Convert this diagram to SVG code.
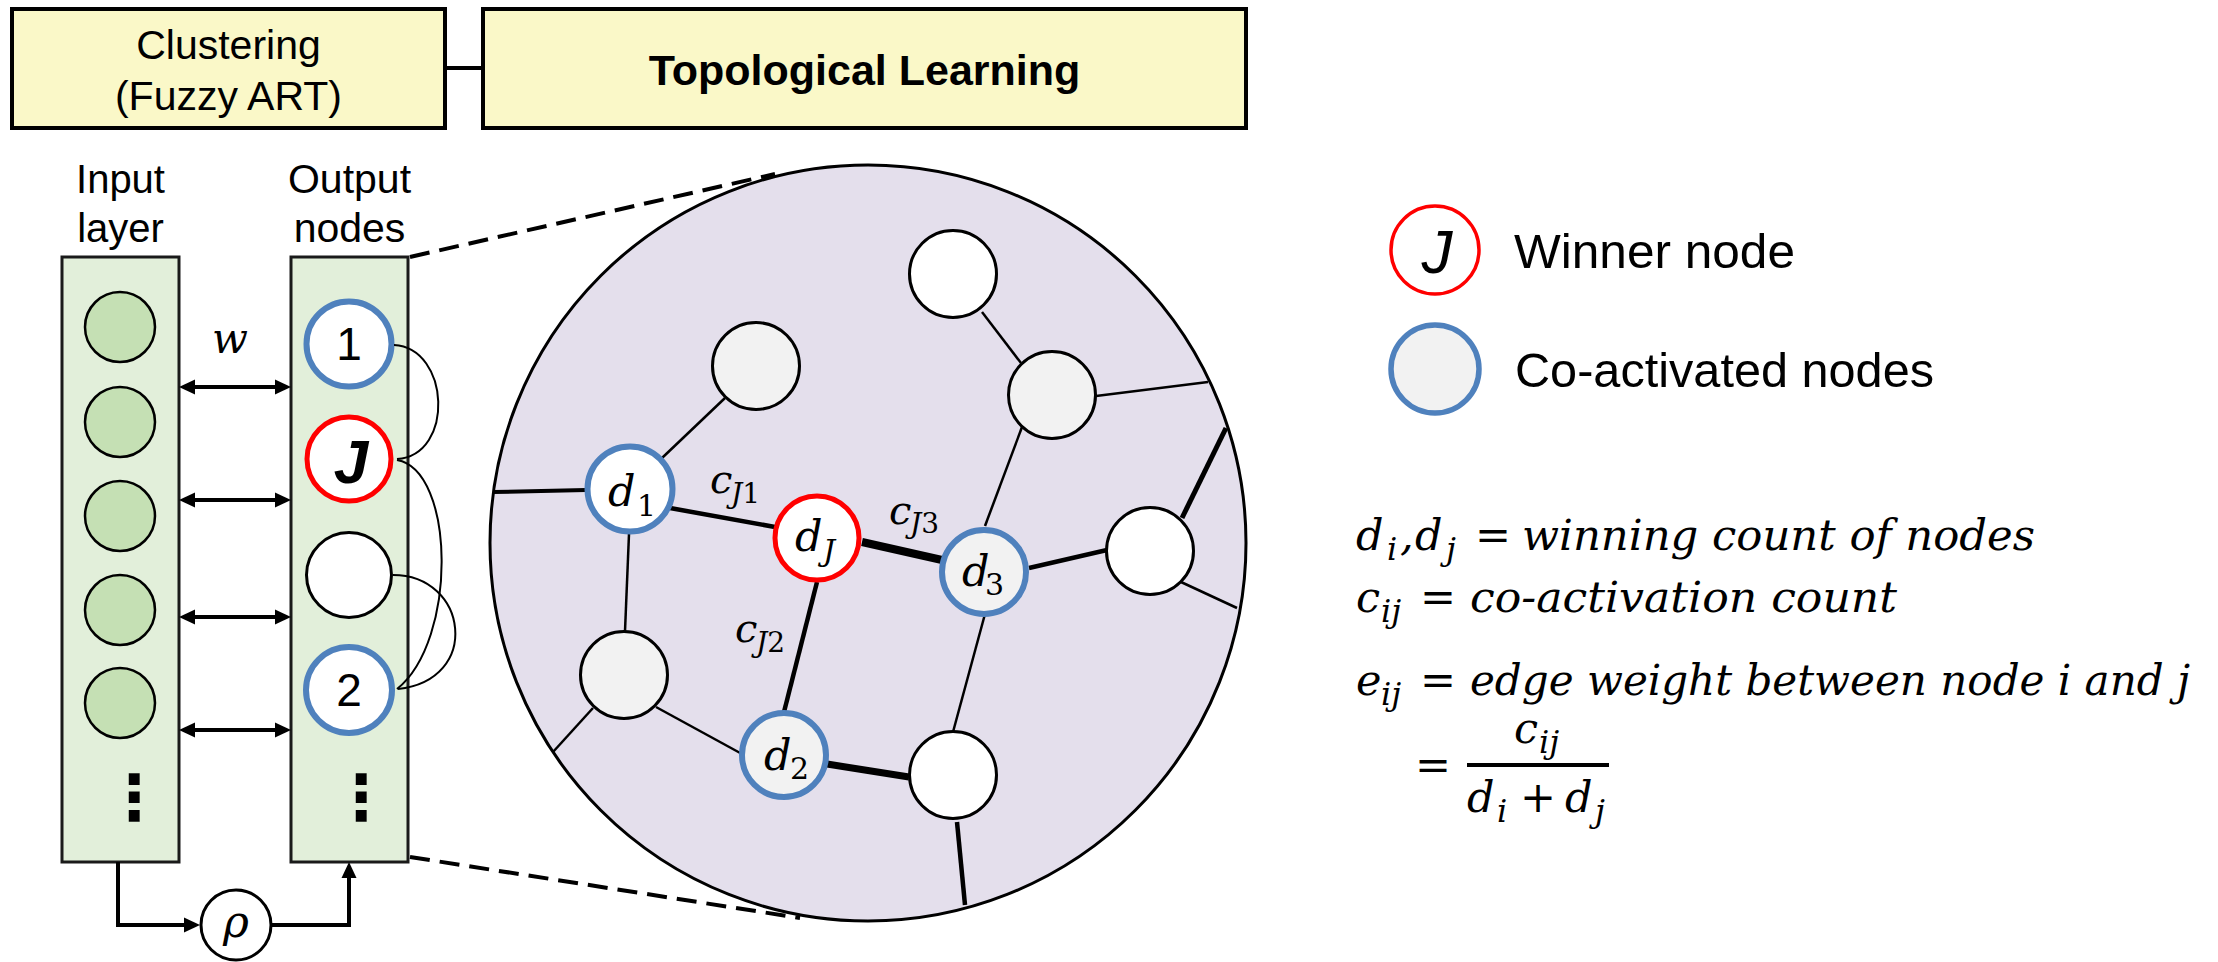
<svg xmlns="http://www.w3.org/2000/svg" width="2218" height="962" viewBox="0 0 2218 962">
<defs>
<marker id="ah" markerUnits="userSpaceOnUse" markerWidth="16" markerHeight="16" viewBox="0 0 16 16" refX="6" refY="8" orient="auto-start-reverse"><path d="M0,0.5 L16,8 L0,15.5 z" fill="#000"/></marker>
</defs>
<style>
.sans{font-family:"Liberation Sans",Arial,sans-serif;fill:#000}
.math{font-family:"DejaVu Serif",serif;font-style:italic;fill:#000}
.up{font-style:normal}
.box{fill:#FAF8C8;stroke:#000;stroke-width:4}
.col{fill:#E2EFDA;stroke:#1a1a1a;stroke-width:3}
.inp{fill:#C5E0B4;stroke:#000;stroke-width:2.5}
.gn{fill:#F2F2F2;stroke:#000;stroke-width:3}
.wn{fill:#FFFFFF;stroke:#000;stroke-width:3}
.bl{stroke:#4F81BD;stroke-width:6}
.rd{stroke:#FF0000;stroke-width:5}
.ln{stroke:#000;fill:none;stroke-linecap:butt}
.dash{stroke:#000;stroke-width:4;stroke-dasharray:20 10;fill:none}
</style>

<g id="clustering-box">
<rect class="box" x="12" y="9" width="433" height="119"/>
<text class="sans" x="228.5" y="59" font-size="41" text-anchor="middle">Clustering</text>
<text class="sans" x="228.5" y="110" font-size="41" text-anchor="middle">(Fuzzy ART)</text>
</g>
<g id="topological-box">
<rect class="box" x="483" y="9" width="763" height="119"/>
<text class="sans" x="864.5" y="85" font-size="43" font-weight="bold" text-anchor="middle">Topological Learning</text>
</g>

<g id="input-layer">
<text class="sans" x="120.5" y="193" font-size="40" text-anchor="middle">Input</text>
<text class="sans" x="120.5" y="242" font-size="40" text-anchor="middle">layer</text>
<rect class="col" x="62" y="257" width="117" height="605"/>
<circle class="inp" cx="120" cy="327" r="35"/>
<circle class="inp" cx="120" cy="422" r="35"/>
<circle class="inp" cx="120" cy="516" r="35"/>
<circle class="inp" cx="120" cy="610" r="35"/>
<circle class="inp" cx="120" cy="703" r="35"/>
<text font-family="DejaVu Sans, sans-serif" font-weight="bold" x="134" y="819" font-size="62" text-anchor="middle">⋮</text>
</g>

<g id="output-nodes">
<text class="sans" x="349.5" y="193" font-size="41" text-anchor="middle">Output</text>
<text class="sans" x="349.5" y="242" font-size="41" text-anchor="middle">nodes</text>
<rect class="col" x="291" y="257" width="117" height="605"/>
<circle class="bl" fill="#FFFFFF" cx="349" cy="344" r="42.5"/>
<text class="sans" x="349" y="360" font-size="46" text-anchor="middle">1</text>
<circle class="rd" fill="#FFFFFF" cx="349" cy="459" r="42" stroke-width="4.5"/>
<text class="sans" x="351" y="483" font-size="62" font-style="italic" font-weight="bold" text-anchor="middle">J</text>
<circle class="wn" cx="349" cy="575" r="42.5"/>
<circle class="bl" fill="#FFFFFF" cx="349" cy="690" r="43"/>
<text class="sans" x="349" y="706" font-size="46" text-anchor="middle">2</text>
<text font-family="DejaVu Sans, sans-serif" font-weight="bold" x="361" y="819" font-size="62" text-anchor="middle">⋮</text>
</g>

<g id="rho-node">
<circle class="wn" cx="236" cy="925" r="35" stroke-width="2.5"/>
<text class="math" x="236" y="937" font-size="44" text-anchor="middle">ρ</text>
</g>

<g id="topology-circle">
<circle cx="868" cy="543" r="378" fill="#E4DFEC" stroke="#000" stroke-width="3"/>
</g>

<g id="connectors">
<line class="ln" x1="445" y1="68" x2="483" y2="68" stroke-width="4"/>
<line class="ln" x1="189" y1="387" x2="281" y2="387" stroke-width="4" marker-start="url(#ah)" marker-end="url(#ah)"/>
<line class="ln" x1="189" y1="500" x2="281" y2="500" stroke-width="4" marker-start="url(#ah)" marker-end="url(#ah)"/>
<line class="ln" x1="189" y1="617" x2="281" y2="617" stroke-width="4" marker-start="url(#ah)" marker-end="url(#ah)"/>
<line class="ln" x1="189" y1="730" x2="281" y2="730" stroke-width="4" marker-start="url(#ah)" marker-end="url(#ah)"/>
<path class="ln" d="M118,862 V925 H190" stroke-width="4" marker-end="url(#ah)"/>
<path class="ln" d="M271,925 H349 V872" stroke-width="4" marker-end="url(#ah)"/>
<path class="ln" d="M394,345 C450,348 455,455 397,459" stroke-width="2"/>
<path class="ln" d="M397,460 C455,470 458,640 397,689" stroke-width="2"/>
<path class="ln" d="M393,575 C468,575 482,680 398,689" stroke-width="2"/>
<line class="dash" x1="410" y1="257" x2="775" y2="174"/>
<line class="dash" x1="410" y1="857" x2="800" y2="918"/>
<line class="ln" x1="493" y1="492" x2="586" y2="490" stroke-width="4"/>
<line class="ln" x1="662" y1="458" x2="725" y2="398" stroke-width="2.5"/>
<line class="ln" x1="670" y1="508" x2="775" y2="527" stroke-width="4.5"/>
<line class="ln" x1="629" y1="534" x2="625" y2="631" stroke-width="2.5"/>
<line class="ln" x1="593" y1="708" x2="553" y2="752" stroke-width="2.5"/>
<line class="ln" x1="656" y1="707" x2="742" y2="754" stroke-width="2.5"/>
<line class="ln" x1="817" y1="582" x2="784" y2="712" stroke-width="4.5"/>
<line class="ln" x1="862" y1="542" x2="942" y2="560" stroke-width="8"/>
<line class="ln" x1="827" y1="764" x2="909" y2="777" stroke-width="7"/>
<line class="ln" x1="957" y1="822" x2="965" y2="905" stroke-width="4.5"/>
<line class="ln" x1="985" y1="614" x2="953" y2="732" stroke-width="2.5"/>
<line class="ln" x1="1029" y1="568" x2="1107" y2="550" stroke-width="4.5"/>
<line class="ln" x1="1022" y1="427" x2="985" y2="526" stroke-width="2.5"/>
<line class="ln" x1="982" y1="312" x2="1021" y2="363" stroke-width="2.5"/>
<line class="ln" x1="1096" y1="396" x2="1208" y2="382" stroke-width="2.5"/>
<line class="ln" x1="1182" y1="518" x2="1226" y2="428" stroke-width="5"/>
<line class="ln" x1="1181" y1="582" x2="1237" y2="608" stroke-width="2.5"/>
</g>

<g id="node-top-gray"><circle class="gn" cx="756" cy="366" r="43.5"/></g>
<g id="node-d1"><circle class="bl" fill="#FFFFFF" cx="630" cy="489" r="42.5"/>
<text class="math" x="608" y="506" font-size="43">d<tspan class="up" font-size="30" x="637" y="516">1</tspan></text></g>
<g id="node-dJ"><circle class="rd" fill="#FFFFFF" cx="817" cy="538" r="42"/>
<text class="math" x="795" y="551" font-size="43">d<tspan font-size="30" x="823" y="561">J</tspan></text></g>
<g id="node-lower-gray"><circle class="gn" cx="624" cy="675" r="43.5"/></g>
<g id="node-d2"><circle class="bl" fill="#F2F2F2" cx="784" cy="755" r="42"/>
<text class="math" x="764" y="770" font-size="43">d<tspan class="up" font-size="30" x="790" y="779">2</tspan></text></g>
<g id="node-top-white"><circle class="wn" cx="953" cy="274" r="43.5"/></g>
<g id="node-upper-gray"><circle class="gn" cx="1052" cy="395" r="43.5"/></g>
<g id="node-d3"><circle class="bl" fill="#F2F2F2" cx="984" cy="572" r="42"/>
<text class="math" x="962" y="586" font-size="43">d<tspan class="up" font-size="30" x="985" y="595">3</tspan></text></g>
<g id="node-right-white"><circle class="wn" cx="1150" cy="551" r="43.5"/></g>
<g id="node-lower-white"><circle class="wn" cx="953" cy="775" r="43.5"/></g>

<g id="edge-labels">
<text class="math" x="212" y="353" font-size="42">w</text>
<text class="math" x="710" y="493" font-size="40">c<tspan font-size="28" x="731" y="503">J</tspan><tspan class="up" font-size="28" y="503">1</tspan></text>
<text class="math" x="735" y="642" font-size="40">c<tspan font-size="28" x="756" y="652">J</tspan><tspan class="up" font-size="28" y="652">2</tspan></text>
<text class="math" x="889" y="524" font-size="40">c<tspan font-size="28" x="910" y="533">J</tspan><tspan class="up" font-size="28" y="533">3</tspan></text>
</g>

<g id="legend">
<circle cx="1435" cy="250" r="44" fill="#FFFFFF" stroke="#FF0000" stroke-width="3.5"/>
<text class="sans" x="1437" y="273" font-size="62" font-style="italic" text-anchor="middle">J</text>
<text class="sans" x="1514" y="268" font-size="49" textLength="281" lengthAdjust="spacingAndGlyphs">Winner node</text>
<circle cx="1435" cy="369" r="44" fill="#F2F2F2" stroke="#4F81BD" stroke-width="5.5"/>
<text class="sans" x="1515" y="387" font-size="49" textLength="419" lengthAdjust="spacingAndGlyphs">Co-activated nodes</text>
</g>

<g id="formulas">
<text class="math" font-size="43" x="1356" y="550">d<tspan font-size="32" x="1387" y="560">i</tspan><tspan x="1400" y="550">,</tspan><tspan x="1415" y="550">d</tspan><tspan font-size="32" x="1446" y="560">j</tspan><tspan class="up" x="1475" y="550">=</tspan><tspan x="1522" y="550" textLength="513" lengthAdjust="spacingAndGlyphs">winning count of nodes</tspan></text>
<text class="math" font-size="43" x="1356" y="612">c<tspan font-size="32" x="1381" y="622">ij</tspan><tspan class="up" x="1420" y="612">=</tspan><tspan x="1470" y="612" textLength="427" lengthAdjust="spacingAndGlyphs">co-activation count</tspan></text>
<text class="math" font-size="43" x="1356" y="695">e<tspan font-size="32" x="1381" y="705">ij</tspan><tspan class="up" x="1420" y="695">=</tspan><tspan x="1470" y="695" textLength="720" lengthAdjust="spacingAndGlyphs">edge weight between node i and j</tspan></text>
<text class="math up" font-size="43" x="1415" y="780">=</text>
<text class="math" font-size="43" x="1514" y="743">c<tspan font-size="32" x="1539" y="753">ij</tspan></text>
<line x1="1467" y1="765" x2="1609" y2="765" stroke="#000" stroke-width="4"/>
<text class="math" font-size="43" x="1467" y="812">d<tspan font-size="32" x="1497" y="822">i</tspan><tspan class="up" x="1520" y="812">+</tspan><tspan x="1565" y="812">d</tspan><tspan font-size="32" x="1595" y="822">j</tspan></text>
</g>
</svg>
